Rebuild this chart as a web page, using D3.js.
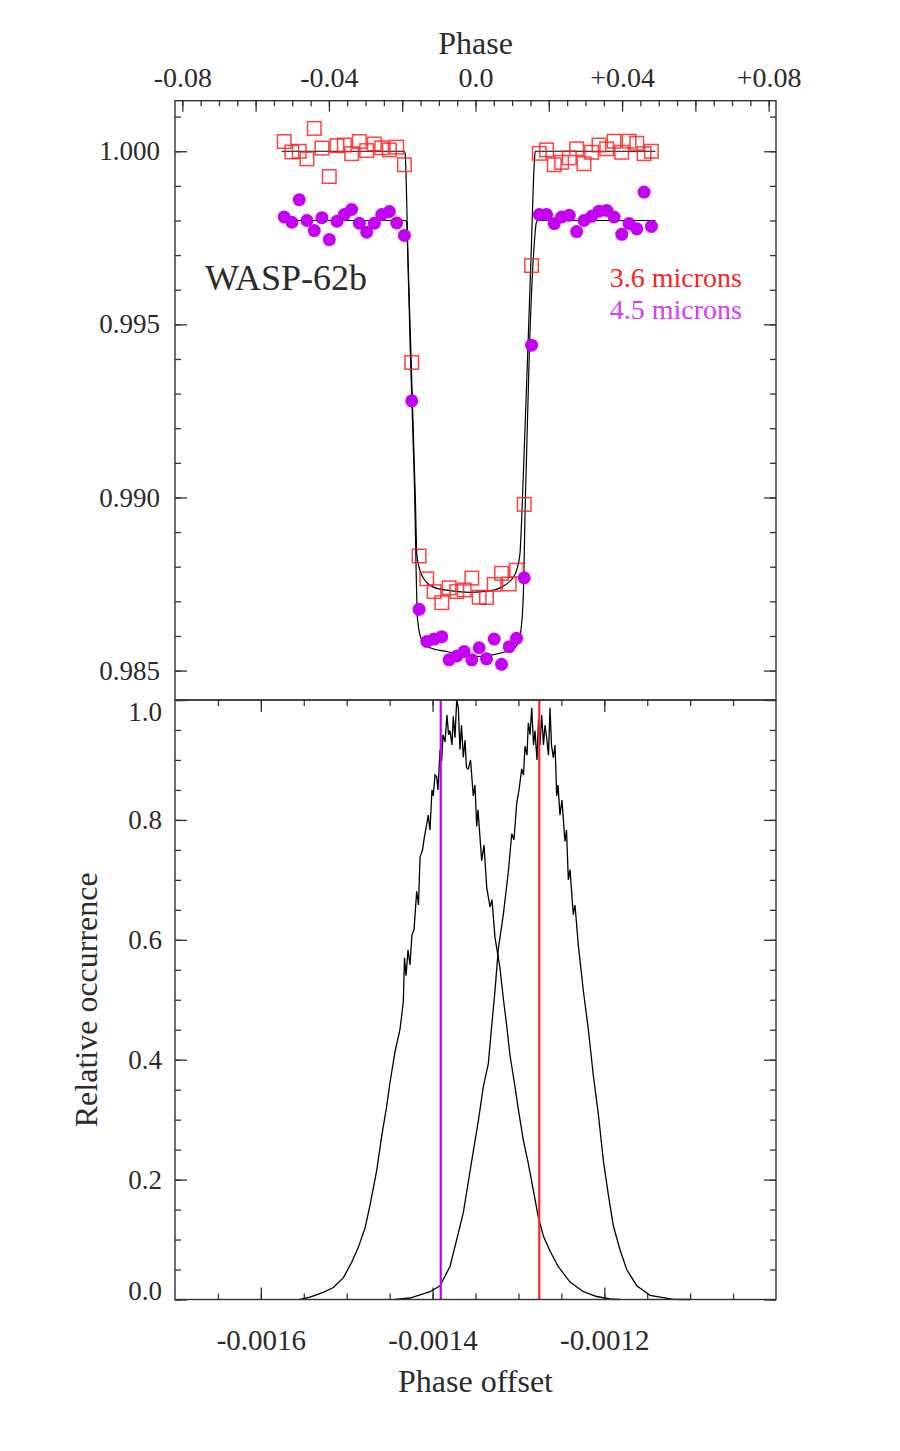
<!DOCTYPE html>
<html lang="en">

<head>
  <meta charset="UTF-8">
  <title>WASP-62b transit</title>
  <script src="https://d3js.org/d3.v7.min.js"></script>
  <style>
    body { margin: 0; background: #fff; }
    text { font-family: 'Liberation Serif', 'Times New Roman', serif; fill: #2b2b2b; }
  </style>
</head>

<body>
<svg></svg>

<script>
  // binned orbital phase of the light curve points
  const phaseBins = [
    -0.0522, -0.0501, -0.0481, -0.0460, -0.0440, -0.0419, -0.0399, -0.0378, -0.0358, -0.0338,
    -0.0317, -0.0297, -0.0276, -0.0256, -0.0235, -0.0215, -0.0194, -0.0174, -0.0154, -0.0133,
    -0.0113, -0.0092, -0.0072, -0.0051, -0.0031, -0.0010, 0.0010, 0.0030, 0.0051, 0.0071,
    0.0092, 0.0112, 0.0133, 0.0153, 0.0174, 0.0194, 0.0215, 0.0235, 0.0256, 0.0276,
    0.0296, 0.0317, 0.0337, 0.0358, 0.0378, 0.0399, 0.0419, 0.0440, 0.0460, 0.0480
  ]

  // relative flux, 3.6 microns
  const flux36 = [
    1.00028, 0.99998, 1.00000, 0.99978, 1.00066, 1.00009, 0.99927, 1.00016, 1.00018, 0.99993,
    1.00028, 1.00002, 1.00021, 1.00010, 1.00004, 1.00012, 0.99961, 0.99390, 0.98831, 0.98765,
    0.98728, 0.98696, 0.98739, 0.98728, 0.98733, 0.98767, 0.98712, 0.98711, 0.98749, 0.98781,
    0.98750, 0.98790, 0.98980, 0.99670, 0.99994, 1.00004, 0.99961, 0.99968, 0.99981, 1.00007,
    0.99964, 0.99997, 1.00018, 1.00007, 1.00029, 0.99997, 1.00029, 1.00023, 0.99993, 1.00000
  ]

  // relative flux, 4.5 microns (drawn shifted down by offset45)
  const flux45 = [
    1.00010, 0.99995, 1.00060, 1.00000, 0.99971, 1.00008, 0.99945, 0.99998, 1.00017, 1.00032,
    0.99992, 0.99966, 0.99992, 1.00017, 1.00026, 0.99993, 0.99957, 0.99479, 0.98877, 0.98784,
    0.98791, 0.98798, 0.98731, 0.98742, 0.98755, 0.98731, 0.98766, 0.98734, 0.98791, 0.98718,
    0.98769, 0.98793, 0.98968, 0.99640, 1.00017, 1.00017, 0.99991, 1.00010, 1.00015, 0.99968,
    1.00000, 1.00012, 1.00027, 1.00029, 1.00010, 0.99960, 0.99991, 0.99976, 1.00082, 0.99983
  ]
  const offset45 = -0.002

  // best fit transit models [phase, flux]
  const model36 = [
    [-0.0529, 1.0], [-0.0194, 1.0], [-0.0192, 0.99993], [-0.0184, 0.99685], [-0.0164, 0.98992],
    [-0.0160, 0.98834], [-0.0147, 0.98776], [-0.0115, 0.98741], [-0.0070, 0.98731], [-0.0015, 0.98726],
    [0.0039, 0.98730], [0.0071, 0.98741], [0.0107, 0.98776], [0.0121, 0.98834], [0.0128, 0.98992],
    [0.0151, 0.99679], [0.0161, 0.99976], [0.0163, 1.0], [0.0491, 1.0]
  ]
  const model45 = [
    [-0.0529, 1.0], [-0.0191, 1.0], [-0.0188, 0.99994], [-0.0186, 0.99942], [-0.0178, 0.99625],
    [-0.0167, 0.99250], [-0.0158, 0.98846], [-0.0147, 0.98789], [-0.0124, 0.98766], [-0.0079, 0.98755],
    [-0.0006, 0.98740], [0.0085, 0.98755], [0.0107, 0.98766], [0.0121, 0.98797], [0.0130, 0.98904],
    [0.0136, 0.99192], [0.0147, 0.99625], [0.0161, 0.99942], [0.0166, 0.99994], [0.0170, 1.0],
    [0.0491, 1.0]
  ]

  // MCMC phase offset histograms [phase offset, relative occurrence]
  const hist45 = [
    [-0.0015544, 0], [-0.0015428, 0.004], [-0.0015273, 0.012], [-0.0015156, 0.020], [-0.0015040, 0.036],
    [-0.0014942, 0.062], [-0.0014865, 0.087], [-0.0014787, 0.119], [-0.0014729, 0.157], [-0.0014651, 0.215],
    [-0.0014593, 0.272], [-0.0014534, 0.323], [-0.0014496, 0.362], [-0.0014438, 0.413], [-0.0014379, 0.451],
    [-0.0014341, 0.496], [-0.0014327, 0.570], [-0.0014309, 0.540], [-0.0014286, 0.583], [-0.0014263, 0.558],
    [-0.0014240, 0.608], [-0.0014216, 0.617], [-0.0014185, 0.681], [-0.0014164, 0.658], [-0.0014146, 0.738],
    [-0.0014117, 0.750], [-0.0014100, 0.767], [-0.0014088, 0.777], [-0.0014050, 0.808], [-0.0014030, 0.783],
    [-0.0014007, 0.850], [-0.0013991, 0.840], [-0.0013972, 0.875], [-0.0013952, 0.872], [-0.0013937, 0.850],
    [-0.0013913, 0.917], [-0.0013894, 0.898], [-0.0013879, 0.942], [-0.0013855, 0.930], [-0.0013832, 0.975],
    [-0.0013814, 0.942], [-0.0013797, 0.949], [-0.0013774, 0.925], [-0.0013759, 0.973], [-0.0013739, 0.937],
    [-0.0013719, 1.000], [-0.0013700, 0.987], [-0.0013681, 0.917], [-0.0013663, 0.958], [-0.0013642, 0.904],
    [-0.0013622, 0.933], [-0.0013605, 0.887], [-0.0013584, 0.885], [-0.0013558, 0.900], [-0.0013526, 0.840],
    [-0.0013506, 0.858], [-0.0013486, 0.789], [-0.0013471, 0.817], [-0.0013428, 0.732], [-0.0013401, 0.758],
    [-0.0013369, 0.687], [-0.0013331, 0.655], [-0.0013308, 0.667], [-0.0013273, 0.604], [-0.0013215, 0.553],
    [-0.0013176, 0.502], [-0.0013137, 0.457], [-0.0013098, 0.407], [-0.0013040, 0.355], [-0.0013001, 0.317],
    [-0.0012943, 0.266], [-0.0012885, 0.227], [-0.0012827, 0.183], [-0.0012769, 0.138], [-0.0012710, 0.106],
    [-0.0012632, 0.081], [-0.0012536, 0.055], [-0.0012399, 0.029], [-0.0012244, 0.013], [-0.0012088, 0.005],
    [-0.0011933, 0.001], [-0.0011817, 0]
  ]
  const hist36 = [
    [-0.0014438, 0], [-0.0014263, 0.0025], [-0.0014030, 0.013], [-0.0013913, 0.023], [-0.0013797, 0.055],
    [-0.0013719, 0.100], [-0.0013642, 0.145], [-0.0013584, 0.196], [-0.0013526, 0.247], [-0.0013467, 0.298],
    [-0.0013409, 0.355], [-0.0013351, 0.393], [-0.0013311, 0.457], [-0.0013273, 0.515], [-0.0013234, 0.585],
    [-0.0013176, 0.642], [-0.0013118, 0.713], [-0.0013078, 0.777], [-0.0013052, 0.767], [-0.0013020, 0.828],
    [-0.0012993, 0.850], [-0.0012962, 0.885], [-0.0012941, 0.875], [-0.0012923, 0.923], [-0.0012900, 0.908],
    [-0.0012885, 0.962], [-0.0012865, 0.942], [-0.0012845, 0.987], [-0.0012824, 0.925], [-0.0012807, 0.949],
    [-0.0012784, 0.900], [-0.0012766, 0.967], [-0.0012749, 0.925], [-0.0012729, 0.975], [-0.0012708, 0.925],
    [-0.0012691, 0.958], [-0.0012671, 0.937], [-0.0012650, 0.908], [-0.0012632, 0.987], [-0.0012615, 0.925],
    [-0.0012594, 0.904], [-0.0012574, 0.925], [-0.0012554, 0.840], [-0.0012539, 0.858], [-0.0012516, 0.808],
    [-0.0012493, 0.833], [-0.0012458, 0.764], [-0.0012440, 0.783], [-0.0012419, 0.700], [-0.0012399, 0.717],
    [-0.0012361, 0.642], [-0.0012341, 0.658], [-0.0012303, 0.592], [-0.0012244, 0.515], [-0.0012186, 0.451],
    [-0.0012128, 0.374], [-0.0012070, 0.310], [-0.0012011, 0.232], [-0.0011953, 0.175], [-0.0011895, 0.123],
    [-0.0011817, 0.083], [-0.0011739, 0.050], [-0.0011622, 0.023], [-0.0011467, 0.007], [-0.0011196, 0.0003],
    [-0.0011002, 0]
  ]
  const best36 = -0.0012757
  const best45 = -0.0013905

  // tick values and labels
  const phaseTicks = [-0.08, -0.04, 0.0, 0.04, 0.08]
  const phaseLabels = ['-0.08', '-0.04', '0.0', '+0.04', '+0.08']
  const fluxTicks = [0.985, 0.990, 0.995, 1.000]
  const occTicks = [0, 0.2, 0.4, 0.6, 0.8, 1.0]
  const offsetTicks = [-0.0016, -0.0014, -0.0012]

  const width = 900
  const height = 1451
  const plotL = 175, plotR = 776
  const plotT = 100.7, plotM = 700, plotB = 1299.5

  const red = '#ff2020'
  const purple = '#c400f5'

  const svg = d3.select('svg')
    .attr('width', width)
    .attr('height', height)

  const xPhase = d3.scaleLinear().domain([-0.082, 0.082]).range([plotL, plotR])
  const yFlux = d3.scaleLinear().domain([0.98415, 1.00146]).range([plotM, plotT])
  const xOff = d3.scaleLinear().domain([-0.0017, -0.0010]).range([plotL, plotR])
  const yOcc = d3.scaleLinear().domain([0, 1]).range([plotB, plotM])

  // inward pointing ticks, no labels
  function tickAxis(axisFn, scale, values, size, transform) {
    const g = svg.append('g')
      .attr('transform', transform)
      .call(axisFn(scale).tickValues(values).tickSize(size).tickSizeOuter(0).tickFormat(''))
    g.select('.domain').remove()
    g.selectAll('line').attr('stroke', '#333').attr('stroke-width', 1.3)
    return g
  }

  function labelAxis(axisFn, scale, values, fmt, pad, transform, fontSize) {
    const g = svg.append('g')
      .attr('transform', transform)
      .call(axisFn(scale).tickValues(values).tickSize(0).tickPadding(pad).tickFormat(fmt))
    g.select('.domain').remove()
    g.selectAll('text')
      .attr('font-size', fontSize)
      .attr('font-family', "'Liberation Serif', serif")
      .attr('fill', '#2b2b2b')
    return g
  }

  const steps = (a, b, step) => d3.range(Math.round((b - a) / step) + 1).map(i => +(a + i * step).toFixed(6))

  // ---------- top panel: light curves ----------
  const phaseMajor = steps(-0.08, 0.08, 0.02)
  const phaseMinor = steps(-0.08, 0.08, 0.005)
  tickAxis(d3.axisBottom, xPhase, phaseMinor, 5.5, `translate(0,${plotT})`)
  tickAxis(d3.axisBottom, xPhase, phaseMajor, 11, `translate(0,${plotT})`)
  labelAxis(d3.axisTop, xPhase, phaseTicks, (d, i) => phaseLabels[i], 14, `translate(0,${plotT})`, 28)

  const fluxMinor = steps(0.985, 1.001, 0.001)
  tickAxis(d3.axisRight, yFlux, fluxMinor, 6, `translate(${plotL},0)`)
  tickAxis(d3.axisRight, yFlux, fluxTicks, 12, `translate(${plotL},0)`)
  tickAxis(d3.axisLeft, yFlux, fluxMinor, 6, `translate(${plotR},0)`)
  tickAxis(d3.axisLeft, yFlux, fluxTicks, 12, `translate(${plotR},0)`)
  labelAxis(d3.axisLeft, yFlux, fluxTicks, d3.format('.3f'), 15, `translate(${plotL},0)`, 27)

  svg.append('text')
    .attr('x', (plotL + plotR) / 2)
    .attr('y', 54)
    .attr('text-anchor', 'middle')
    .attr('font-size', 32)
    .text('Phase')

  const line = d3.line()
    .x(d => xPhase(d[0]))
    .curve(d3.curveMonotoneX)

  svg.append('path')
    .datum(model36)
    .attr('d', line.y(d => yFlux(d[1])))
    .attr('fill', 'none')
    .attr('stroke', '#000')
    .attr('stroke-width', 1.2)

  svg.append('path')
    .datum(model45)
    .attr('d', line.y(d => yFlux(d[1] + offset45)))
    .attr('fill', 'none')
    .attr('stroke', '#000')
    .attr('stroke-width', 1.2)

  const side = 13.5
  svg.append('g')
    .selectAll('rect')
    .data(phaseBins)
    .join('rect')
    .attr('x', d => xPhase(d) - side / 2)
    .attr('y', (d, i) => yFlux(flux36[i]) - side / 2)
    .attr('width', side)
    .attr('height', side)
    .attr('fill', 'none')
    .attr('stroke', red)
    .attr('stroke-opacity', 0.85)
    .attr('stroke-width', 1.5)

  svg.append('g')
    .selectAll('circle')
    .data(phaseBins)
    .join('circle')
    .attr('cx', d => xPhase(d))
    .attr('cy', (d, i) => yFlux(flux45[i] + offset45))
    .attr('r', 6.5)
    .attr('fill', purple)

  svg.append('text')
    .attr('x', 205)
    .attr('y', 290)
    .attr('font-size', 36)
    .text('WASP-62b')

  svg.append('text')
    .attr('x', 742)
    .attr('y', 287)
    .attr('text-anchor', 'end')
    .attr('font-size', 28)
    .style('fill', red)
    .text('3.6 microns')

  svg.append('text')
    .attr('x', 742)
    .attr('y', 319)
    .attr('text-anchor', 'end')
    .attr('font-size', 28)
    .style('fill', '#d83cf5')
    .text('4.5 microns')

  // ---------- bottom panel: phase offset posteriors ----------
  const offMajor = steps(-0.0016, -0.0012, 0.0002)
  const offMinor = steps(-0.00165, -0.00105, 0.00005)
  tickAxis(d3.axisTop, xOff, offMinor, 6, `translate(0,${plotB})`)
  tickAxis(d3.axisTop, xOff, offMajor, 12, `translate(0,${plotB})`)
  tickAxis(d3.axisBottom, xOff, offMinor, 6, `translate(0,${plotM})`)
  tickAxis(d3.axisBottom, xOff, offMajor, 12, `translate(0,${plotM})`)
  labelAxis(d3.axisBottom, xOff, offsetTicks, d => d3.format('.4f')(d).replace('−', '-'), 30, `translate(0,${plotB})`, 29)

  const occMinor = steps(0, 1, 0.05)
  tickAxis(d3.axisRight, yOcc, occMinor, 6, `translate(${plotL},0)`)
  tickAxis(d3.axisRight, yOcc, occTicks, 12, `translate(${plotL},0)`)
  tickAxis(d3.axisLeft, yOcc, occMinor, 6, `translate(${plotR},0)`)
  tickAxis(d3.axisLeft, yOcc, occTicks, 12, `translate(${plotR},0)`)
  const occLabels = labelAxis(d3.axisLeft, yOcc, occTicks, d3.format('.1f'), 13, `translate(${plotL},0)`, 27)
  // end labels are pulled inside the panel
  occLabels.selectAll('.tick')
    .filter(d => d === 0 || d === 1)
    .select('text')
    .attr('y', d => d === 0 ? -9 : 12)

  svg.append('text')
    .attr('x', (plotL + plotR) / 2)
    .attr('y', 1392)
    .attr('text-anchor', 'middle')
    .attr('font-size', 32)
    .text('Phase offset')

  svg.append('text')
    .attr('transform', `translate(97,${(plotM + plotB) / 2}) rotate(-90)`)
    .attr('text-anchor', 'middle')
    .attr('font-size', 32)
    .text('Relative occurrence')

  const histLine = d3.line()
    .x(d => xOff(d[0]))
    .y(d => yOcc(d[1]))

  svg.append('g')
    .selectAll('path')
    .data([hist45, hist36])
    .join('path')
    .attr('d', histLine)
    .attr('fill', 'none')
    .attr('stroke', '#000')
    .attr('stroke-width', 1.3)

  svg.append('line')
    .attr('x1', xOff(best45)).attr('x2', xOff(best45))
    .attr('y1', plotM).attr('y2', plotB)
    .attr('stroke', purple)
    .attr('stroke-width', 2.2)

  svg.append('line')
    .attr('x1', xOff(best36)).attr('x2', xOff(best36))
    .attr('y1', plotM).attr('y2', plotB)
    .attr('stroke', red)
    .attr('stroke-width', 2.2)

  // panel frames
  svg.append('rect')
    .attr('x', plotL).attr('y', plotT)
    .attr('width', plotR - plotL).attr('height', plotM - plotT)
    .attr('fill', 'none')
    .attr('stroke', '#333')
    .attr('stroke-width', 1.4)

  svg.append('rect')
    .attr('x', plotL).attr('y', plotM)
    .attr('width', plotR - plotL).attr('height', plotB - plotM)
    .attr('fill', 'none')
    .attr('stroke', '#333')
    .attr('stroke-width', 1.4)
</script>

</body>

</html>
